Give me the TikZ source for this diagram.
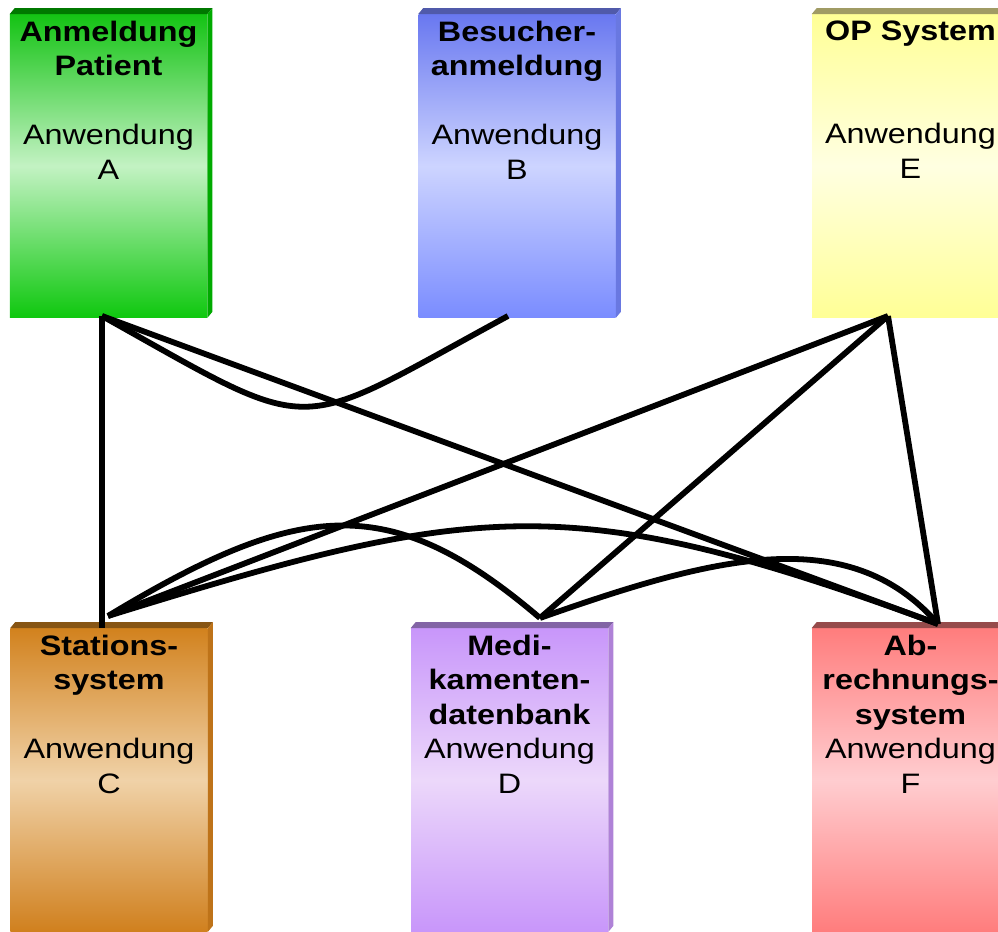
\documentclass[tikz,border=0pt]{standalone}
\usepackage{fontspec}
\setmainfont{Liberation Sans}[FakeStretch=1.15]
\usetikzlibrary{positioning}
\definecolor{topA}{RGB}{20,195,20}\definecolor{midA}{RGB}{195,242,195}\definecolor{botA}{RGB}{15,200,15}
\definecolor{sideA}{RGB}{0,170,0}\definecolor{edgeA}{RGB}{0,120,0}
\definecolor{topB}{RGB}{105,120,240}\definecolor{midB}{RGB}{205,212,255}\definecolor{botB}{RGB}{122,140,255}
\definecolor{sideB}{RGB}{105,120,225}\definecolor{edgeB}{RGB}{80,90,170}
\definecolor{topE}{RGB}{255,255,150}\definecolor{midE}{RGB}{255,255,225}\definecolor{botE}{RGB}{255,255,150}
\definecolor{sideE}{RGB}{230,230,140}\definecolor{edgeE}{RGB}{160,155,100}
\definecolor{topC}{RGB}{210,130,30}\definecolor{midC}{RGB}{240,210,168}\definecolor{botC}{RGB}{208,128,30}
\definecolor{sideC}{RGB}{190,115,25}\definecolor{edgeC}{RGB}{135,85,20}
\definecolor{topD}{RGB}{200,150,250}\definecolor{midD}{RGB}{236,216,250}\definecolor{botD}{RGB}{200,150,250}
\definecolor{sideD}{RGB}{175,130,215}\definecolor{edgeD}{RGB}{130,100,165}
\definecolor{topF}{RGB}{255,125,125}\definecolor{midF}{RGB}{255,205,208}\definecolor{botF}{RGB}{255,125,125}
\definecolor{sideF}{RGB}{220,110,110}\definecolor{edgeF}{RGB}{150,75,75}
\begin{document}
\begin{tikzpicture}[x=0.2mm,y=-0.2mm,
  appbox/.style={minimum width=39.4mm,minimum height=60.6mm,inner sep=0pt},
  apptext/.style={align=center,inner sep=0pt,font=\fontsize{16}{19.6}\selectfont},
  link/.style={line width=3.3pt}]
\useasboundingbox (0,0) rectangle (998,932);
\foreach \n/\x/\y in {A/108.5/166,B/517/166,E/910.5/166,C/109/780,D/509.5/780,F/910.5/780}{
  \node[appbox,top color=top\n,bottom color=bot\n,middle color=mid\n] (box\n) at (\x,\y) {};
  \fill[edge\n] (box\n.north west) -- ++(1mm,1.2mm) -- ([shift={(1mm,1.2mm)}]box\n.north east) -- (box\n.north east) -- cycle;
  \fill[side\n] (box\n.north east) -- ++(1mm,1.2mm) -- ([shift={(1mm,1.2mm)}]box\n.south east) -- (box\n.south east) -- cycle;
}
\node[apptext,below=1.3mm of boxA.north] (txtA) {\textbf{Anmeldung}\\\textbf{Patient}\\~\\Anwendung\\A};
\node[apptext,below=1.3mm of boxB.north] (txtB) {\textbf{Besucher-}\\\textbf{anmeldung}\\~\\Anwendung\\B};
\node[apptext,below=1.3mm of boxE.north] (txtE) {\textbf{OP System}\\~\\~\\Anwendung\\E};
\node[apptext,below=1.3mm of boxC.north] (txtC) {\textbf{Stations-}\\\textbf{system}\\~\\Anwendung\\C};
\node[apptext,below=1.3mm of boxD.north] (txtD) {\textbf{Medi-}\\\textbf{kamenten-}\\\textbf{datenbank}\\Anwendung\\D};
\node[apptext,below=1.3mm of boxF.north] (txtF) {\textbf{Ab-}\\\textbf{rechnungs-}\\\textbf{system}\\Anwendung\\F};
\coordinate (pA) at (102,316);
\coordinate (pB) at (508,316);
\coordinate (pE) at (888,316);
\coordinate (pC) at (108,616);
\coordinate (pD) at (540,618);
\coordinate (pF) at (938,624);
\draw[link] (pA) -- (pA |- boxC.north);
\draw[link] (pA) -- (pF);
\draw[link] (pA) .. controls (322,439) and (288,435) .. (pB);
\draw[link] (pE) -- (pC);
\draw[link] (pE) -- (pD);
\draw[link] (pE) -- (pF);
\draw[link] (pC) .. controls (300,500) and (390,490) .. (pD);
\draw[link] (pC) .. controls (479,501) and (571,489) .. (pF);
\draw[link] (pD) .. controls (710,558) and (848,520) .. (pF);
\end{tikzpicture}
\end{document}
